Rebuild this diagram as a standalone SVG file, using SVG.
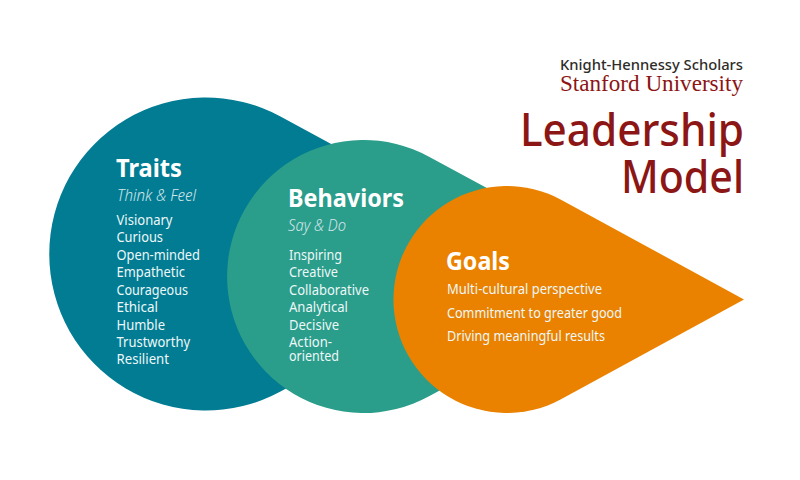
<svg xmlns="http://www.w3.org/2000/svg" width="800" height="480" viewBox="0 0 800 480">
<style>
text{font-family:"Noto Sans","Open Sans",sans-serif;fill:#fff}
.h{font-weight:700;font-size:24.500px}
.s{font-weight:300;font-style:italic;font-size:16px;fill:#d3e6ea}
.b{font-size:13.500px;fill:#eef7f7}
.t{font-size:44.500px;font-weight:500;fill:#8c1515}
</style>
<rect width="800" height="480" fill="#fff"/>
<g id="traits">
<path d="M534 254L280.500 116.500A156.500 156.500 0 1 0 280.500 391.500Z" fill="#017c93"/>
<text class="h" x="116" y="177" textLength="66" lengthAdjust="spacingAndGlyphs">Traits</text>
<text class="s" x="117" y="201" textLength="79" lengthAdjust="spacingAndGlyphs">Think &amp; Feel</text>
<text class="b" x="116.500" y="224.500" textLength="56" lengthAdjust="spacingAndGlyphs">Visionary</text>
<text class="b" x="116.500" y="242" textLength="46.500" lengthAdjust="spacingAndGlyphs">Curious</text>
<text class="b" x="116.500" y="259.500" textLength="83.500" lengthAdjust="spacingAndGlyphs">Open-minded</text>
<text class="b" x="116.500" y="277" textLength="68.500" lengthAdjust="spacingAndGlyphs">Empathetic</text>
<text class="b" x="116.500" y="294.500" textLength="71.500" lengthAdjust="spacingAndGlyphs">Courageous</text>
<text class="b" x="116.500" y="312" textLength="41.500" lengthAdjust="spacingAndGlyphs">Ethical</text>
<text class="b" x="116.500" y="329.500" textLength="48.500" lengthAdjust="spacingAndGlyphs">Humble</text>
<text class="b" x="116.500" y="347" textLength="73.500" lengthAdjust="spacingAndGlyphs">Trustworthy</text>
<text class="b" x="116.500" y="364" textLength="52.500" lengthAdjust="spacingAndGlyphs">Resilient</text>
</g>
<g id="behaviors">
<path d="M650 276.500L429 156.700A136.500 136.500 0 1 0 429 396.300Z" fill="#2a9d8b"/>
<text class="h" x="288" y="207" textLength="116" lengthAdjust="spacingAndGlyphs">Behaviors</text>
<text class="s" x="288" y="231" textLength="58" lengthAdjust="spacingAndGlyphs">Say &amp; Do</text>
<text class="b" x="289" y="259.500" textLength="53" lengthAdjust="spacingAndGlyphs">Inspiring</text>
<text class="b" x="289" y="277" textLength="49" lengthAdjust="spacingAndGlyphs">Creative</text>
<text class="b" x="289" y="294.500" textLength="80" lengthAdjust="spacingAndGlyphs">Collaborative</text>
<text class="b" x="289" y="312" textLength="59" lengthAdjust="spacingAndGlyphs">Analytical</text>
<text class="b" x="289" y="329.500" textLength="50" lengthAdjust="spacingAndGlyphs">Decisive</text>
<text class="b" x="289" y="347" textLength="43" lengthAdjust="spacingAndGlyphs">Action-</text>
<text class="b" x="289" y="360.500" textLength="50" lengthAdjust="spacingAndGlyphs">oriented</text>
</g>
<g id="goals">
<path d="M744 299.500L561 199.700A113.500 113.500 0 1 0 561 399.300Z" fill="#ea8200"/>
<text class="h" x="446" y="269.500" textLength="64" lengthAdjust="spacingAndGlyphs">Goals</text>
<text class="b" x="447" y="294" textLength="155" lengthAdjust="spacingAndGlyphs">Multi-cultural perspective</text>
<text class="b" x="447" y="318" textLength="175" lengthAdjust="spacingAndGlyphs">Commitment to greater good</text>
<text class="b" x="447" y="341" textLength="158" lengthAdjust="spacingAndGlyphs">Driving meaningful results</text>
</g>
<g id="title">
<text x="560" y="69.500" font-size="15" font-weight="500" style="fill:#2e2d29" textLength="183" lengthAdjust="spacingAndGlyphs">Knight-Hennessy Scholars</text>
<text x="560" y="90.500" font-size="23" style="fill:#8c1515;font-family:'Liberation Serif',serif" textLength="183" lengthAdjust="spacingAndGlyphs">Stanford University</text>
<text class="t" x="520" y="145.500" textLength="224" lengthAdjust="spacingAndGlyphs">Leadership</text>
<text class="t" x="621" y="192.500" textLength="123" lengthAdjust="spacingAndGlyphs">Model</text>
</g>
<g id="connectors"/>
</svg>
